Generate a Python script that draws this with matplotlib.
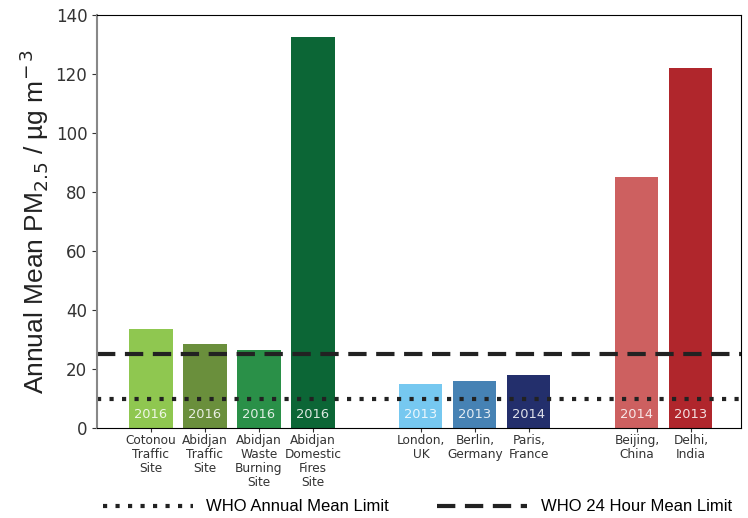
import numpy as np
import matplotlib.pyplot as plt

# site data
sites = ["Cotonou\nTraffic\nSite", "Abidjan\nTraffic\nSite",
         "Abidjan\nWaste\nBurning\nSite", "Abidjan\nDomestic\nFires\nSite",
         "London,\nUK", "Berlin,\nGermany", "Paris,\nFrance",
         "Beijing,\nChina", "Delhi,\nIndia"]
pm25 = [33.6, 28.5, 26.4, 132.5, 14.9, 15.9, 18.0, 85.1, 122.0]
years = ["2016", "2016", "2016", "2016", "2013", "2013", "2014", "2014", "2013"]
positions = [0, 1, 2, 3, 5, 6, 7, 9, 10]
colors = ["#8fc750", "#6a8f3c", "#2a9048", "#0c6636",
          "#76c8f0", "#4682b4", "#232f6c", "#cd6060", "#b0262c"]

who_annual = 10
who_24h = 25

fig = plt.figure(figsize=(7.48, 5.18), dpi=100)
ax = fig.add_axes([97 / 748, 90 / 518, 644 / 748, 413 / 518])

ax.bar(positions, pm25, width=0.8, color=colors)

for x, yr in zip(positions, years):
    ax.text(x, 4.7, yr, ha="center", va="center", color="white",
            alpha=0.85, fontsize=9.4)

l1, = ax.plot([-1, 11], [who_annual, who_annual], ls=(0, (1, 2)),
              lw=3, color="#222222")
l2, = ax.plot([-1, 11], [who_24h, who_24h], ls=(0, (4.4, 2.3)),
              lw=3, color="#222222")

ax.set_xlim(-1, 10.93)
ax.set_ylim(0, 140)
ax.set_xticks(positions)
ax.set_xticklabels(sites, fontsize=8.7, color="#333333", linespacing=1.08)
ax.tick_params(axis="y", labelsize=12, colors="#333333")
ax.tick_params(axis="x", length=3, pad=1.5, colors="#333333")
ax.spines["left"].set_color("#888888")
ax.spines["left"].set_linewidth(1.5)

ax.set_ylabel("Annual Mean PM$_{2.5}$ / µg m$^{-\\,3}$",
              fontsize=19, family="Liberation Sans", color="#222222")
ax.yaxis.set_label_coords(-0.072, 0.5)

fig.legend([l1, l2], ["WHO Annual Mean Limit", "WHO 24 Hour Mean Limit"],
           loc="lower left", bbox_to_anchor=(88 / 748, -0.022), ncol=2,
           frameon=False, handlelength=5.4, handletextpad=0.8,
           columnspacing=2.9,
           prop={"family": "Liberation Sans", "size": 12})

fig.savefig("out.png", dpi=100)
